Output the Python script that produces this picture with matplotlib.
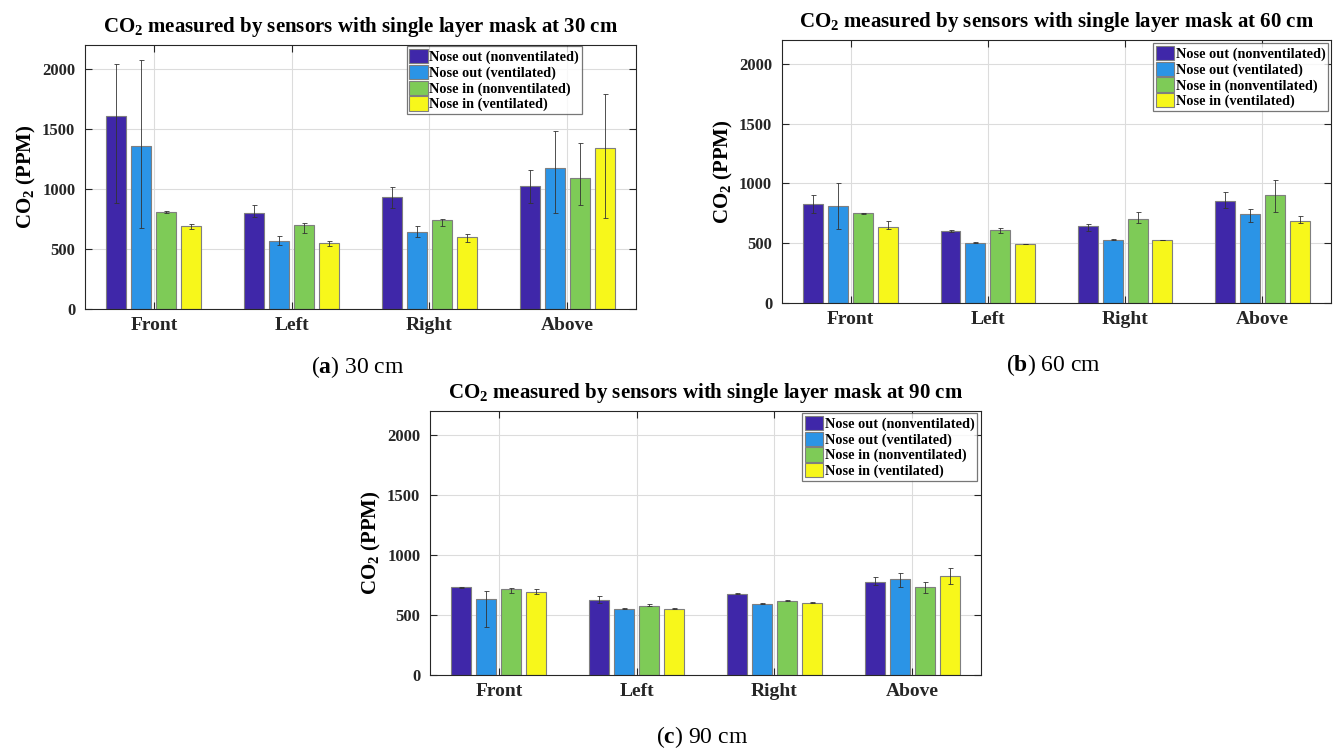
import numpy as np
import matplotlib
matplotlib.use('Agg')
import matplotlib.pyplot as plt

plt.rcParams['font.family'] = ['Liberation Serif', 'DejaVu Serif']
plt.rcParams['mathtext.fontset'] = 'custom'
plt.rcParams['mathtext.rm'] = 'Liberation Serif'
plt.rcParams['mathtext.bf'] = 'Liberation Serif:bold'
plt.rcParams['mathtext.it'] = 'Liberation Serif:italic'

# categories and series
positions = ['Front', 'Left', 'Right', 'Above']
series = ['Nose out (nonventilated)', 'Nose out (ventilated)',
          'Nose in (nonventilated)', 'Nose in (ventilated)']
colors = ['#3F27A9', '#2B94E6', '#7ECB57', '#F7F71B']

# 30 cm : mean, lower end, upper end of error bar (rows = series)
val_30 = [[1608, 800, 936, 1028],
          [1358, 567, 639, 1178],
          [808, 697, 742, 1092],
          [692, 550, 603, 1342]]
low_30 = [[883, 764, 842, 883],
          [675, 531, 597, 803],
          [803, 631, 692, 867],
          [667, 528, 558, 758]]
high_30 = [[2042, 869, 1019, 1158],
           [2075, 608, 689, 1486],
           [813, 717, 750, 1383],
           [711, 569, 625, 1792]]

# 60 cm
val_60 = [[826, 600, 644, 856],
          [812, 502, 527, 745],
          [750, 611, 703, 904],
          [639, 494, 527, 683]]
low_60 = [[753, 591, 600, 792],
          [619, 498, 523, 678],
          [746, 583, 667, 761],
          [616, 492, 525, 667]]
high_60 = [[901, 611, 664, 932],
           [1004, 506, 531, 784],
           [754, 628, 762, 1029],
           [686, 496, 529, 728]]

# 90 cm
val_90 = [[730, 627, 677, 777],
          [630, 554, 593, 797],
          [713, 579, 618, 735],
          [691, 554, 602, 822]]
low_90 = [[726, 596, 674, 752],
          [396, 551, 590, 735],
          [685, 571, 615, 685],
          [674, 551, 599, 758]]
high_90 = [[734, 655, 680, 819],
           [702, 557, 596, 847],
           [724, 588, 621, 772],
           [713, 557, 605, 891]]

yticks = [0, 500, 1000, 1500, 2000]

fig = plt.figure(figsize=(13.33, 7.49), dpi=100)


def draw_panel(rect, vals, lows, highs, dist, leg_box):
    ax = fig.add_axes(rect)
    x = np.arange(1, len(positions) + 1)
    offsets = [-0.272, -0.091, 0.091, 0.272]
    for i in range(len(series)):
        v = np.array(vals[i])
        err = [v - np.array(lows[i]), np.array(highs[i]) - v]
        ax.bar(x + offsets[i], v, width=0.145, color=colors[i],
               edgecolor='#7f7f7f', linewidth=0.8, label=series[i], zorder=2)
        ax.errorbar(x + offsets[i], v, yerr=err, fmt='none', ecolor='#333333',
                    elinewidth=0.6, capsize=1.8, capthick=0.6, zorder=3)
    ax.set_xlim(0.5, 4.5)
    ax.set_ylim(0, 2200)
    ax.set_xticks(x)
    ax.set_xticklabels(positions, fontsize=14, fontweight='bold')
    ax.set_yticks(yticks)
    ax.set_yticklabels([str(t) for t in yticks], fontsize=12, fontweight='bold')
    ax.tick_params(direction='in', length=5, width=0.8, top=True, right=True,
                   pad=7, colors='#262626')
    ax.tick_params(axis='x', pad=6)
    ax.grid(True, color='#dcdcdc', linewidth=0.8, zorder=0)
    ax.set_axisbelow(True)
    for s in ax.spines.values():
        s.set_color('#262626')
        s.set_linewidth(0.8)
    ax.set_ylabel(r'CO$_\mathbf{2}$ (PPM)', fontsize=15, fontweight='bold', labelpad=3)
    ax.set_title(r'CO$_\mathbf{2}$ measured by sensors with single layer mask at %d cm' % dist,
                 fontsize=15, fontweight='bold', pad=9)
    leg = ax.legend(loc='upper right', bbox_to_anchor=leg_box,
                    prop={'weight': 'bold', 'size': 10.3}, frameon=True, fancybox=False,
                    borderpad=0.2, labelspacing=0.05, handlelength=1.3, handleheight=1.15,
                    handletextpad=0.1, borderaxespad=0.0)
    leg.get_frame().set_edgecolor('#555555')
    leg.get_frame().set_linewidth(0.9)
    return ax


draw_panel([0.0638, 0.5875, 0.4134, 0.3525], val_30, low_30, high_30, 30, (0.902, 0.996))
draw_panel([0.5866, 0.5955, 0.4119, 0.3511], val_60, low_60, high_60, 60, (0.995, 0.989))
draw_panel([0.3226, 0.0988, 0.4134, 0.3525], val_90, low_90, high_90, 90, (0.993, 0.993))

fig.text(0.2686, 0.510, r'($\mathbf{a}$) 30 cm', fontsize=17, ha='center', va='center')
fig.text(0.790, 0.513, r'($\mathbf{b}$) 60 cm', fontsize=17, ha='center', va='center')
fig.text(0.527, 0.016, r'($\mathbf{c}$) 90 cm', fontsize=17, ha='center', va='center')

fig.savefig('out.png', dpi=100)
